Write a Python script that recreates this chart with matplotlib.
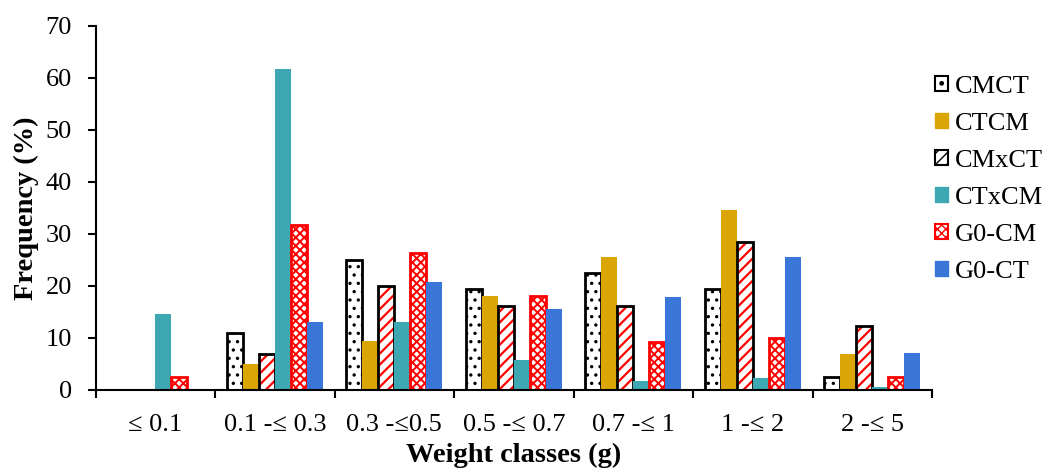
import numpy as np
import matplotlib
matplotlib.use('Agg')
import matplotlib.pyplot as plt
from matplotlib.patches import Patch

# ---------------------------------------------------------------
# data (frequency, %)
# ---------------------------------------------------------------
classes = ['\u2264 0.1', '0.1 -\u2264 0.3', '0.3 -\u22640.5', '0.5 -\u2264 0.7',
           '0.7 -\u2264 1', '1 -\u2264 2', '2 -\u2264 5']
series = ['CMCT', 'CTCM', 'CMxCT', 'CTxCM', 'G0-CM', 'G0-CT']

cmct = [0, 11.0, 25.0, 19.5, 22.5, 19.5, 2.5]
ctcm = [0, 5.0, 9.5, 18.0, 25.6, 34.6, 7.0]
cmxct = [0, 7.0, 20.0, 16.2, 16.2, 28.4, 12.3]
ctxcm = [14.7, 61.8, 13.0, 5.8, 1.7, 2.3, 0.5]
g0cm = [2.5, 31.7, 26.3, 18.0, 9.2, 10.0, 2.5]
g0ct = [0, 13.0, 20.8, 15.5, 17.8, 25.5, 7.1]

gold = '#DBA506'
teal = '#3DA8B1'
blue = '#3A76D8'
red = '#FF0000'

plt.rcParams['font.family'] = ['Liberation Serif', 'DejaVu Serif']

fig = plt.figure(figsize=(10.45, 4.71), dpi=100)
ax = fig.add_axes([0.0914, 0.172, 0.8005, 0.773])

x = np.arange(len(classes)) + 0.5
w = 0.134

def off(k):
    return (k - 2.5) * w

# CMCT: white with small dots, black edge
plt.rcParams['hatch.linewidth'] = 1.2
ax.bar(x + off(0), cmct, w, color='white', edgecolor='black', hatch='..', linewidth=0)
ax.bar(x + off(0), cmct, w, fill=False, edgecolor='black', linewidth=2)
# CTCM
ax.bar(x + off(1), ctcm, w, color=gold, linewidth=0)
# CMxCT: red diagonal hatch, black edge
plt.rcParams['hatch.linewidth'] = 1.6
ax.bar(x + off(2), cmxct, w, color='white', edgecolor=red, hatch='///', linewidth=0)
ax.bar(x + off(2), cmxct, w, fill=False, edgecolor='black', linewidth=2)
# CTxCM
ax.bar(x + off(3), ctxcm, w, color=teal, linewidth=0)
# G0-CM: red checker, red edge
plt.rcParams['hatch.linewidth'] = 1.4
ax.bar(x + off(4), g0cm, w, color='white', edgecolor=red, hatch='xxxx', linewidth=2)
# G0-CT
ax.bar(x + off(5), g0ct, w, color=blue, linewidth=0)

ax.set_xlim(0, len(classes))
ax.set_ylim(0, 70)
ax.set_yticks(range(0, 71, 10))
ax.set_xticks(range(0, len(classes) + 1))
ax.set_xticklabels([])
ax.set_xticks(x, minor=True)
ax.set_xticklabels(classes, minor=True, fontsize=19)
ax.tick_params(axis='x', which='minor', length=0, pad=17)
ax.tick_params(axis='x', which='major', length=6, width=1.5, direction='out')
ax.tick_params(axis='y', length=6, width=1.5, direction='out', labelsize=19, pad=11)

for s in ['top', 'right']:
    ax.spines[s].set_visible(False)
ax.spines['left'].set_linewidth(1.5)
ax.spines['bottom'].set_linewidth(1.5)

ax.set_xlabel('Weight classes (g)', fontsize=20.5, fontweight='bold', labelpad=5)
ax.set_ylabel('Frequency (%)', fontsize=20.5, fontweight='bold')
ax.yaxis.set_label_coords(-0.067, 0.5)

plt.rcParams['hatch.linewidth'] = 1.0
handles = [
    Patch(facecolor='white', edgecolor='black', hatch='.', linewidth=1.5),
    Patch(facecolor=gold, edgecolor=gold),
    Patch(facecolor='white', edgecolor='black', hatch='///', linewidth=1.5),
    Patch(facecolor=teal, edgecolor=teal),
    Patch(facecolor='white', edgecolor=red, hatch='xxxx', linewidth=1.5),
    Patch(facecolor=blue, edgecolor=blue),
]
fig.legend(handles, series, loc='upper left', bbox_to_anchor=(0.895, 0.839),
           frameon=False, fontsize=19, handlelength=0.5, handleheight=0.5,
           handletextpad=0.25, labelspacing=0.57, borderpad=0, borderaxespad=0)

fig.savefig('out.png', dpi=100)
